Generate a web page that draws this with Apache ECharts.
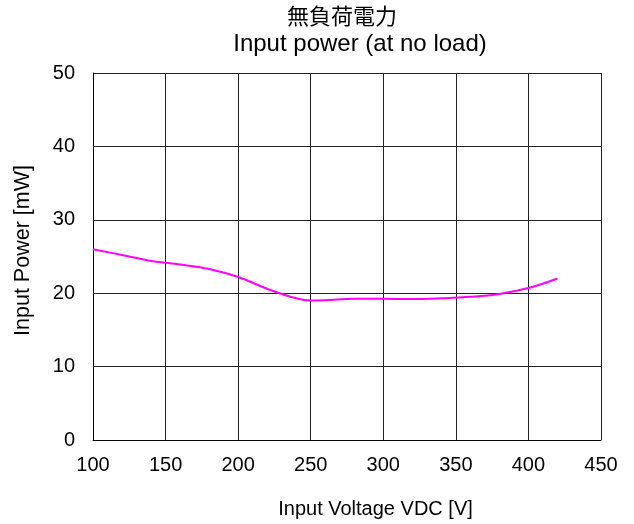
<!DOCTYPE html>
<html><head><meta charset="utf-8">
<script src="https://cdn.jsdelivr.net/npm/echarts@6/dist/echarts.min.js"></script>
<style>html,body{margin:0;padding:0;background:#fff}#c{width:634px;height:524px}</style>
</head><body><div id="c"></div>
<script>
var voltage = [100, 120, 140, 160, 180, 200, 220, 240, 250, 260, 280, 300, 320, 340, 360, 380, 400, 420];
var power   = [26.0, 25.2, 24.4, 23.9, 23.3, 22.2, 20.6, 19.3, 19.0, 19.05, 19.25, 19.25, 19.2, 19.3, 19.5, 19.9, 20.7, 22.0];
var titleJa = '無負荷電力';
var titleEn = 'Input power (at no load)';
var xName = 'Input Voltage VDC [V]';
var yName = 'Input Power [mW]';

var chart = echarts.init(document.getElementById('c'));
var font = 'Liberation Sans, Arial, sans-serif';
chart.setOption({
  animation: false,
  title: [
    {text: titleJa, left: 342, top: 5, padding: 0, textAlign: 'center', textStyle: {fontFamily: 'Noto Sans CJK JP', fontSize: 22, fontWeight: 'normal', color: '#000'}},
    {text: titleEn, left: 360, top: 32, padding: 0, textAlign: 'center', textStyle: {fontFamily: font, fontSize: 24, fontWeight: 'normal', color: '#000'}}
  ],
  grid: {left: 93, right: 33, top: 73, bottom: 84, containLabel: false},
  xAxis: {
    type: 'value', min: 100, max: 450, interval: 50,
    name: xName, nameLocation: 'middle', nameGap: 59,
    nameTextStyle: {fontFamily: font, fontSize: 20, color: '#000', padding: [0, 0, 0, 57]},
    axisLine: {show: true, lineStyle: {color: '#000', width: 1}},
    axisTick: {show: false},
    axisLabel: {fontFamily: font, fontSize: 20, color: '#000', margin: 15},
    splitLine: {show: true, lineStyle: {color: '#222', width: 1}}
  },
  yAxis: {
    type: 'value', min: 0, max: 50, interval: 10,
    name: yName, nameLocation: 'middle', nameGap: 59,
    nameTextStyle: {fontFamily: font, fontSize: 21.5, color: '#000', padding: [0, 0, 0, 12]},
    axisLine: {show: true, lineStyle: {color: '#000', width: 1}},
    axisTick: {show: false},
    axisLabel: {fontFamily: font, fontSize: 20, color: '#000', margin: 18},
    splitLine: {show: true, lineStyle: {color: '#222', width: 1}}
  },
  series: [{
    type: 'line', smooth: 0.4, symbol: 'none',
    data: voltage.map(function (v, i) { return [v, power[i]]; }),
    lineStyle: {color: '#ff00ff', width: 2}
  }]
});
</script></body></html>
